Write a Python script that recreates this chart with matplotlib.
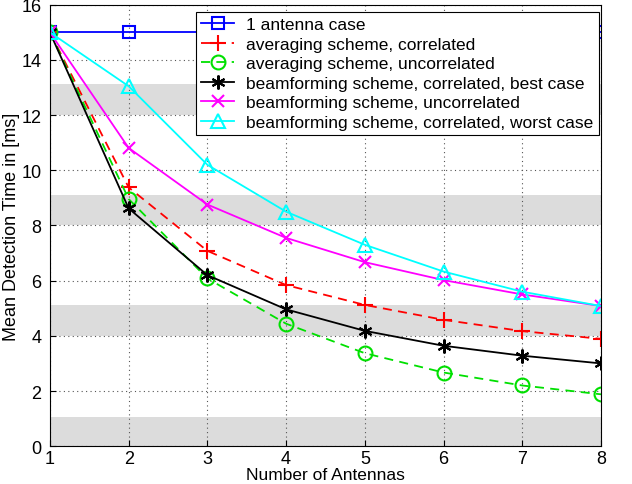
import matplotlib
matplotlib.use("Agg")
import matplotlib.pyplot as plt

# Mean detection time vs number of antennas
antennas = [1, 2, 3, 4, 5, 6, 7, 8]
one_antenna = [15, 15, 15, 15, 15, 15, 15, 15]
avg_corr = [15, 9.38, 7.08, 5.84, 5.12, 4.58, 4.17, 3.89]
avg_uncorr = [15, 8.96, 6.08, 4.44, 3.37, 2.67, 2.2, 1.88]
bf_corr_best = [15, 8.62, 6.2, 4.96, 4.18, 3.64, 3.28, 3.0]
bf_uncorr = [15, 10.81, 8.76, 7.55, 6.67, 6.02, 5.5, 5.08]
bf_corr_worst = [15, 13.05, 10.2, 8.5, 7.3, 6.33, 5.6, 5.08]

labels = ['1 antenna case',
          'averaging scheme, correlated',
          'averaging scheme, uncorrelated',
          'beamforming scheme, correlated, best case',
          'beamforming scheme, uncorrelated',
          'beamforming scheme, correlated, worst case']

# grey stripes visible in the scanned figure
bandas = [(0, 1.07), (4, 5.12), (8, 9.1), (12, 13.12)]

plt.rcParams['font.family'] = ['Liberation Sans', 'DejaVu Sans']

fig = plt.figure(figsize=(6.32, 4.85), dpi=100)
ax = fig.add_axes([0.079, 0.078, 0.872, 0.91])

for y0, y1 in bandas:
    ax.axhspan(y0, y1, color='#dcdcdc', lw=0, zorder=0)

asterisco = (6, 2, 0)
ax.plot(antennas, one_antenna, color='#0000ff', marker='s', ms=9, mfc='none', mew=1.5, lw=1.3, label=labels[0])
ax.plot(antennas, avg_corr, color='#ff0000', ls=(0, (5, 3.5)), marker='+', ms=11, mew=1.5, lw=1.3, label=labels[1])
ax.plot(antennas, avg_uncorr, color='#00e000', ls=(0, (5, 3.5)), marker='o', ms=10, mfc='none', mew=1.5, lw=1.3, label=labels[2])
ax.plot(antennas, bf_corr_best, color='black', marker=asterisco, ms=10, mew=1.5, lw=1.3, label=labels[3])
ax.plot(antennas, bf_uncorr, color='#ff00ff', marker='x', ms=8, mew=1.5, lw=1.3, label=labels[4])
ax.plot(antennas, bf_corr_worst, color='#00ffff', marker='^', ms=10, mfc='none', mew=1.5, lw=1.3, label=labels[5])

ax.set_xlim(1, 8)
ax.set_ylim(0, 16)
ax.set_xticks(antennas)
ax.set_yticks(range(0, 17, 2))
ax.tick_params(labelsize=13, direction='in', length=4, pad=6)
ax.tick_params(axis='x', pad=3)
ax.grid(True, color='#555555', ls=(0, (1, 3)), lw=0.8)
ax.set_axisbelow(True)
ax.set_xlabel('Number of Antennas', fontsize=12.5, labelpad=0)
ax.set_ylabel('Mean Detection Time in [ms]', fontsize=13, labelpad=1)

leg = ax.legend(loc='upper right', bbox_to_anchor=(1.002, 0.992), fontsize=12.5, frameon=True,
                fancybox=False, edgecolor='black', framealpha=1, borderpad=0.3,
                labelspacing=0.25, handlelength=1.9, handletextpad=0.7, borderaxespad=0.2)
leg.get_frame().set_linewidth(0.8)

fig.savefig('out.png', dpi=100)
